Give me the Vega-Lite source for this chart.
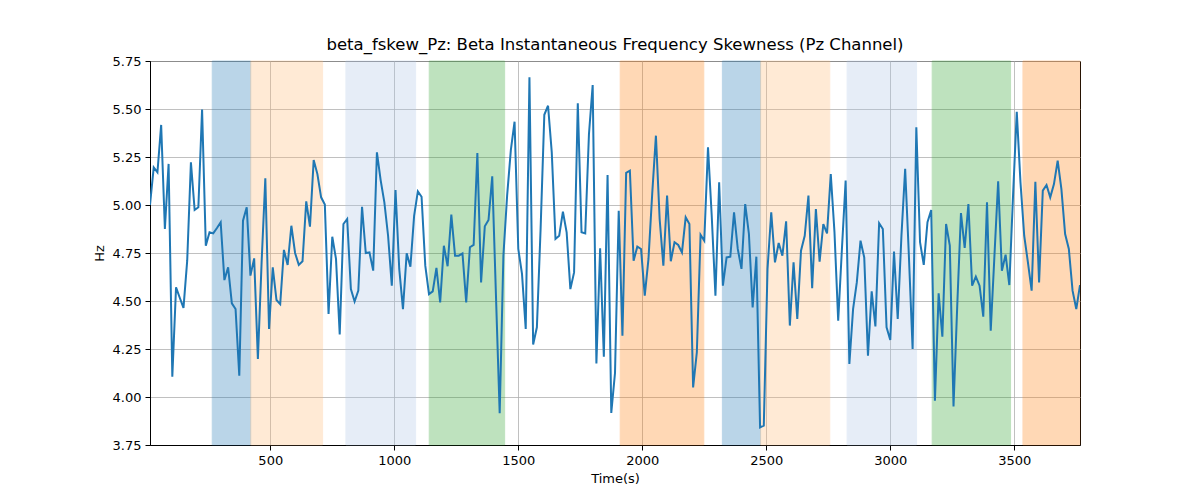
{
  "$schema": "https://vega.github.io/schema/vega-lite/v6.json",
  "width": 930,
  "height": 384,
  "autosize": {"type": "none"},
  "padding": {"left": 150, "top": 61, "right": 120, "bottom": 55},
  "background": "white",
  "title": {"text": "beta_fskew_Pz: Beta Instantaneous Frequency Skewness (Pz Channel)", "font": "DejaVu Sans", "fontSize": 16.5, "fontWeight": "normal", "color": "black", "anchor": "middle", "offset": 2},
  "config": {
    "view": {"stroke": "black", "strokeWidth": 1},
    "axis": {"domainColor": "black", "tickColor": "black", "tickSize": 5, "labelFont": "DejaVu Sans", "labelFontSize": 13, "labelColor": "black", "titleFont": "DejaVu Sans", "titleFontSize": 13, "titleFontWeight": "normal", "titleColor": "black", "gridColor": "#b0b0b0", "gridWidth": 0.8, "labelPadding": 4}
  },
  "datasets": {
    "bands": [
      {"start": 266, "end": 421, "state": "s1"},
      {"start": 421, "end": 711, "state": "s2"},
      {"start": 805, "end": 1086, "state": "s3"},
      {"start": 1141, "end": 1445, "state": "s4"},
      {"start": 1911, "end": 2248, "state": "s5"},
      {"start": 2323, "end": 2477, "state": "s1"},
      {"start": 2477, "end": 2756, "state": "s2"},
      {"start": 2826, "end": 3106, "state": "s3"},
      {"start": 3169, "end": 3485, "state": "s4"},
      {"start": 3535, "end": 3765, "state": "s5"}
    ],
    "series": [
      {"t":15,"hz":5.0},{"t":30,"hz":5.196},{"t":45,"hz":5.17},{"t":60,"hz":5.417},{"t":75,"hz":4.875},{"t":90,"hz":5.214},{"t":105,"hz":4.106},{"t":120,"hz":4.571},{"t":135,"hz":4.517},{"t":150,"hz":4.464},
      {"t":165,"hz":4.71},{"t":180,"hz":5.222},{"t":195,"hz":4.974},{"t":210,"hz":4.988},{"t":225,"hz":5.497},{"t":240,"hz":4.788},{"t":255,"hz":4.858},{"t":270,"hz":4.852},{"t":285,"hz":4.88},{"t":300,"hz":4.91},
      {"t":315,"hz":4.609},{"t":330,"hz":4.675},{"t":345,"hz":4.488},{"t":360,"hz":4.458},{"t":375,"hz":4.111},{"t":390,"hz":4.918},{"t":405,"hz":4.988},{"t":420,"hz":4.632},{"t":435,"hz":4.722},{"t":450,"hz":4.198},
      {"t":465,"hz":4.7},{"t":480,"hz":5.139},{"t":495,"hz":4.354},{"t":510,"hz":4.675},{"t":525,"hz":4.505},{"t":540,"hz":4.484},{"t":555,"hz":4.766},{"t":570,"hz":4.688},{"t":585,"hz":4.892},{"t":600,"hz":4.75},
      {"t":615,"hz":4.688},{"t":630,"hz":4.707},{"t":645,"hz":5.019},{"t":660,"hz":4.887},{"t":675,"hz":5.234},{"t":690,"hz":5.161},{"t":705,"hz":5.04},{"t":720,"hz":5.002},{"t":735,"hz":4.432},{"t":750,"hz":4.835},
      {"t":765,"hz":4.719},{"t":780,"hz":4.326},{"t":795,"hz":4.901},{"t":810,"hz":4.927},{"t":825,"hz":4.562},{"t":840,"hz":4.497},{"t":855,"hz":4.554},{"t":870,"hz":4.991},{"t":885,"hz":4.75},{"t":900,"hz":4.753},
      {"t":915,"hz":4.658},{"t":930,"hz":5.274},{"t":945,"hz":5.13},{"t":960,"hz":5.014},{"t":975,"hz":4.84},{"t":990,"hz":4.58},{"t":1005,"hz":5.078},{"t":1020,"hz":4.667},{"t":1035,"hz":4.458},{"t":1050,"hz":4.748},
      {"t":1065,"hz":4.679},{"t":1080,"hz":4.944},{"t":1095,"hz":5.071},{"t":1110,"hz":5.043},{"t":1125,"hz":4.684},{"t":1140,"hz":4.536},{"t":1155,"hz":4.55},{"t":1170,"hz":4.672},{"t":1185,"hz":4.493},{"t":1200,"hz":4.788},
      {"t":1215,"hz":4.681},{"t":1230,"hz":4.95},{"t":1245,"hz":4.736},{"t":1260,"hz":4.736},{"t":1275,"hz":4.748},{"t":1290,"hz":4.493},{"t":1305,"hz":4.78},{"t":1320,"hz":4.792},{"t":1335,"hz":5.271},{"t":1350,"hz":4.597},
      {"t":1365,"hz":4.889},{"t":1380,"hz":4.922},{"t":1395,"hz":5.149},{"t":1410,"hz":4.528},{"t":1425,"hz":3.915},{"t":1440,"hz":4.736},{"t":1455,"hz":5.049},{"t":1470,"hz":5.286},{"t":1485,"hz":5.434},{"t":1500,"hz":4.771},
      {"t":1515,"hz":4.641},{"t":1530,"hz":4.354},{"t":1545,"hz":5.665},{"t":1560,"hz":4.273},{"t":1575,"hz":4.363},{"t":1590,"hz":4.875},{"t":1605,"hz":5.47},{"t":1620,"hz":5.517},{"t":1635,"hz":5.274},{"t":1650,"hz":4.823},
      {"t":1665,"hz":4.84},{"t":1680,"hz":4.965},{"t":1695,"hz":4.858},{"t":1710,"hz":4.562},{"t":1725,"hz":4.649},{"t":1740,"hz":5.53},{"t":1755,"hz":4.858},{"t":1770,"hz":4.852},{"t":1785,"hz":5.37},{"t":1800,"hz":5.625},
      {"t":1815,"hz":4.175},{"t":1830,"hz":4.774},{"t":1845,"hz":4.21},{"t":1860,"hz":5.156},{"t":1875,"hz":3.917},{"t":1890,"hz":4.125},{"t":1905,"hz":4.97},{"t":1920,"hz":4.319},{"t":1935,"hz":5.167},{"t":1950,"hz":5.179},
      {"t":1965,"hz":4.71},{"t":1980,"hz":4.783},{"t":1995,"hz":4.771},{"t":2010,"hz":4.528},{"t":2025,"hz":4.719},{"t":2040,"hz":5.057},{"t":2055,"hz":5.361},{"t":2070,"hz":4.927},{"t":2085,"hz":4.684},{"t":2100,"hz":5.049},
      {"t":2115,"hz":4.707},{"t":2130,"hz":4.806},{"t":2145,"hz":4.792},{"t":2160,"hz":4.753},{"t":2175,"hz":4.936},{"t":2190,"hz":4.901},{"t":2205,"hz":4.05},{"t":2220,"hz":4.233},{"t":2235,"hz":4.845},{"t":2250,"hz":4.814},
      {"t":2265,"hz":5.3},{"t":2280,"hz":4.944},{"t":2295,"hz":4.528},{"t":2310,"hz":5.118},{"t":2325,"hz":4.58},{"t":2340,"hz":4.727},{"t":2355,"hz":4.731},{"t":2370,"hz":4.962},{"t":2385,"hz":4.771},{"t":2400,"hz":4.667},
      {"t":2415,"hz":5.005},{"t":2430,"hz":4.849},{"t":2445,"hz":4.467},{"t":2460,"hz":4.731},{"t":2475,"hz":3.842},{"t":2490,"hz":3.851},{"t":2505,"hz":4.667},{"t":2520,"hz":4.962},{"t":2535,"hz":4.701},{"t":2550,"hz":4.802},
      {"t":2565,"hz":4.736},{"t":2580,"hz":4.915},{"t":2595,"hz":4.372},{"t":2610,"hz":4.701},{"t":2625,"hz":4.406},{"t":2640,"hz":4.762},{"t":2655,"hz":4.84},{"t":2670,"hz":5.049},{"t":2685,"hz":4.566},{"t":2700,"hz":4.979},
      {"t":2715,"hz":4.705},{"t":2730,"hz":4.901},{"t":2745,"hz":4.852},{"t":2760,"hz":5.161},{"t":2775,"hz":4.858},{"t":2790,"hz":4.398},{"t":2805,"hz":4.771},{"t":2820,"hz":5.127},{"t":2835,"hz":4.172},{"t":2850,"hz":4.458},
      {"t":2865,"hz":4.597},{"t":2880,"hz":4.814},{"t":2895,"hz":4.727},{"t":2910,"hz":4.215},{"t":2925,"hz":4.55},{"t":2940,"hz":4.368},{"t":2955,"hz":4.905},{"t":2970,"hz":4.875},{"t":2985,"hz":4.363},{"t":3000,"hz":4.297},
      {"t":3015,"hz":4.757},{"t":3030,"hz":4.406},{"t":3045,"hz":4.84},{"t":3060,"hz":5.188},{"t":3075,"hz":4.736},{"t":3090,"hz":4.25},{"t":3105,"hz":5.405},{"t":3120,"hz":4.806},{"t":3135,"hz":4.688},{"t":3150,"hz":4.91},
      {"t":3165,"hz":4.974},{"t":3180,"hz":3.981},{"t":3195,"hz":4.54},{"t":3210,"hz":4.314},{"t":3225,"hz":4.901},{"t":3240,"hz":4.788},{"t":3255,"hz":3.951},{"t":3270,"hz":4.476},{"t":3285,"hz":4.958},{"t":3300,"hz":4.776},
      {"t":3315,"hz":5.005},{"t":3330,"hz":4.58},{"t":3345,"hz":4.627},{"t":3360,"hz":4.58},{"t":3375,"hz":4.418},{"t":3390,"hz":5.014},{"t":3405,"hz":4.345},{"t":3420,"hz":4.736},{"t":3435,"hz":5.123},{"t":3450,"hz":4.658},
      {"t":3465,"hz":4.741},{"t":3480,"hz":4.583},{"t":3495,"hz":5.049},{"t":3510,"hz":5.486},{"t":3525,"hz":5.118},{"t":3540,"hz":4.84},{"t":3555,"hz":4.701},{"t":3570,"hz":4.554},{"t":3585,"hz":5.121},{"t":3600,"hz":4.597},
      {"t":3615,"hz":5.075},{"t":3630,"hz":5.104},{"t":3645,"hz":5.04},{"t":3660,"hz":5.109},{"t":3675,"hz":5.231},{"t":3690,"hz":5.083},{"t":3705,"hz":4.849},{"t":3720,"hz":4.771},{"t":3735,"hz":4.554},{"t":3750,"hz":4.458},
      {"t":3765,"hz":4.583}
    ]
  },
  "layer": [
    {
      "data": {"name": "bands"},
      "mark": {"type": "rect", "opacity": 0.3, "strokeWidth": 1},
      "encoding": {
        "x": {"field": "start", "type": "quantitative", "scale": {"domain": [15, 3765], "nice": false, "zero": false},
              "axis": {"values": [500, 1000, 1500, 2000, 2500, 3000, 3500], "format": "d", "title": "Time(s)", "titlePadding": 5, "grid": true}},
        "x2": {"field": "end"},
        "color": {"field": "state", "type": "nominal", "scale": {"domain": ["s1", "s2", "s3", "s4", "s5"], "range": ["#1f77b4", "#ffbb78", "#aec7e8", "#2ca02c", "#ff7f0e"]}, "legend": null},
        "stroke": {"field": "state", "type": "nominal", "scale": {"domain": ["s1", "s2", "s3", "s4", "s5"], "range": ["#1f77b4", "#ffbb78", "#aec7e8", "#2ca02c", "#ff7f0e"]}, "legend": null}
      }
    },
    {
      "data": {"name": "series"},
      "mark": {"type": "line", "color": "#1f77b4", "strokeWidth": 2, "clip": true},
      "encoding": {
        "x": {"field": "t", "type": "quantitative"},
        "y": {"field": "hz", "type": "quantitative", "scale": {"domain": [3.75, 5.75], "nice": false, "zero": false},
              "axis": {"values": [3.75, 4.0, 4.25, 4.5, 4.75, 5.0, 5.25, 5.5, 5.75], "format": ".2f", "title": "Hz", "titlePadding": 6, "grid": true}}
      }
    }
  ]
}
